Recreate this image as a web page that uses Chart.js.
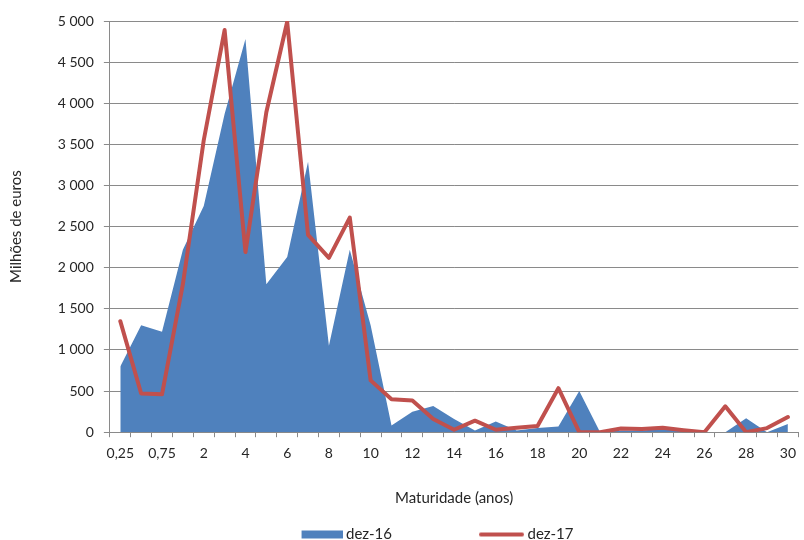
<!DOCTYPE html>
<html><head><meta charset="utf-8">
<script src="https://cdn.jsdelivr.net/npm/chart.js@4.4.1/dist/chart.umd.min.js"></script>
<style>html,body{margin:0;padding:0;background:#fff;overflow:hidden}#wrap{width:804px;height:540px;position:relative}</style>
</head><body><div id="wrap"><canvas id="c" width="804" height="540"></canvas></div>
<script>
// ---- data ----
const categories = ['0,25','0,5','0,75','1','2','3','4','5','6','7','8','9','10','11','12','13','14','15','16','17','18','19','20','21','22','23','24','25','26','27','28','29','30'];
const seriesNames = ['dez-16', 'dez-17'];
const dez16 = [800,1300,1220,2220,2750,3870,4780,1800,2130,3290,1050,2220,1300,80,250,320,160,20,130,20,50,70,500,0,20,20,40,10,0,0,170,0,100];
const dez17 = [1350,470,460,1800,3550,4890,2190,3890,4990,2400,2120,2610,630,400,385,160,30,140,30,55,75,535,0,0,45,40,55,25,0,315,0,50,185];
const yMin = 0, yMax = 5000, yStep = 500;
const xTitle = 'Maturidade (anos)';
const yTitle = 'Milhões de euros';

const BLUE = '#4F81BD', RED = '#C0504D', GRID = '#8a8a8a', TEXT = '#262626';
const FONT = 'Lato';
Chart.defaults.font.family = FONT;
Chart.defaults.font.size = 14;
Chart.defaults.color = TEXT;

const W = 118;
function swatch(kind) {
  const c = document.createElement('canvas');
  c.width = W + 8; c.height = 10;
  const g = c.getContext('2d');
  if (kind === 'area') { g.fillStyle = BLUE; g.fillRect(c.width - 41, 1, 41, 8); }
  else { g.strokeStyle = RED; g.lineWidth = 4; g.lineCap = 'round'; g.beginPath(); g.moveTo(c.width - 43, 5); g.lineTo(c.width - 2, 5); g.stroke(); }
  return c;
}
const sw = [swatch('area'), swatch('line')];

function fmt(v) {
  if (v < 1000) return String(v);
  const t = Math.floor(v / 1000), r = v % 1000;
  return t + ' ' + String(r).padStart(3, '0');
}

new Chart(document.getElementById('c'), {
  type: 'line',
  data: {
    labels: categories,
    datasets: [
      { label: seriesNames[0], data: dez16, fill: 'origin', backgroundColor: BLUE, borderColor: BLUE, borderWidth: 0, pointRadius: 0, tension: 0, order: 2 },
      { label: seriesNames[1], data: dez17, fill: false, borderColor: RED, backgroundColor: RED, borderWidth: 4, pointRadius: 0, tension: 0, borderJoinStyle: 'round', borderCapStyle: 'round', order: 1 }
    ]
  },
  options: {
    responsive: false,
    animation: false,
    devicePixelRatio: 1,
    layout: { padding: { left: -10, right: 0, top: 21, bottom: 0 } },
    plugins: {
      tooltip: { enabled: false },
      legend: {
        position: 'bottom',
        maxHeight: 23,
        labels: {
          usePointStyle: true,
          pointStyleWidth: W,
          boxHeight: 8,
          padding: 10,
          color: TEXT,
          font: { size: 15 },
          generateLabels: (chart) => chart.data.datasets.map((ds, i) => ({
            text: ds.label, pointStyle: sw[i], fillStyle: ds.backgroundColor, strokeStyle: ds.borderColor,
            lineWidth: 0, hidden: false, datasetIndex: i, fontColor: TEXT
          }))
        }
      }
    },
    scales: {
      x: {
        type: 'category',
        offset: true,
        grid: { display: true, offset: true, drawOnChartArea: false, drawTicks: true, tickLength: 5, color: GRID },
        border: { display: true, color: GRID },
        ticks: {
          autoSkip: false, maxRotation: 0, minRotation: 0, padding: 8, color: TEXT,
          callback: (v, i) => (i % 2 === 0 ? categories[i] : '')
        },
        title: { display: true, text: xTitle, color: TEXT, font: { size: 15 }, padding: { top: 19, bottom: 10 } }
      },
      y: {
        min: yMin, max: yMax,
        grid: { color: GRID, tickLength: 6 },
        border: { display: true, color: GRID },
        ticks: { stepSize: yStep, padding: 10, color: TEXT, callback: (v) => fmt(v) },
        title: { display: true, text: yTitle, color: TEXT, font: { size: 15 }, padding: { top: 17.5, bottom: 22.3 } }
      }
    }
  }
});
</script></body></html>
